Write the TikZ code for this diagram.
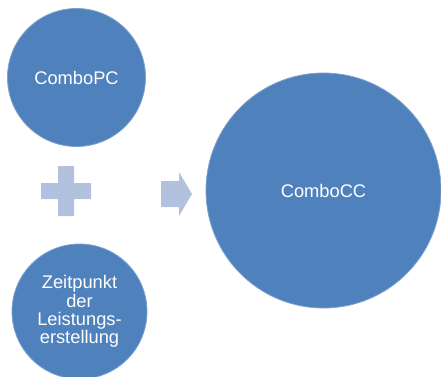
\documentclass[tikz,border=0pt]{standalone}
\usepackage{fontspec}
\setmainfont{Liberation Sans}
\definecolor{circblue}{HTML}{4F81BD}
\definecolor{circedge}{HTML}{7FA2CF}
\definecolor{lightblue}{RGB}{178,193,222}
\begin{document}
\begin{tikzpicture}[x=1pt,y=-1pt,
  bubble/.style={circle,fill=circblue,draw=circedge,line width=0.8pt,inner sep=0pt,
    text=white,align=center,font=\fontsize{18.3}{18.4}\selectfont},
  sym/.style={fill=lightblue,draw=none}]
\useasboundingbox (0,0) rectangle (441,376);
\node[bubble,minimum size=138pt] (pc) at (76.5,77.5) {ComboPC};
\node[bubble,minimum size=135pt] (zp) at (79.5,311.5) {Zeitpunkt\\der\\Leistungs-\\erstellung};
\node[bubble,minimum size=235pt] (cc) at (323.5,190.5) {ComboCC};
% plus sign
\coordinate (plus) at (66,191);
\fill[sym] ([shift={(-8,-25)}]plus) -- ++(16,0) -- ++(0,17) -- ++(17,0) -- ++(0,16)
  -- ++(-17,0) -- ++(0,17) -- ++(-16,0) -- ++(0,-17) -- ++(-17,0) -- ++(0,-16)
  -- ++(17,0) -- cycle;
% arrow
\coordinate (arr) at (161,194);
\fill[sym] ([shift={(0,-13)}]arr) -- ++(18,0) -- ++(0,-9) -- ++(13,22) -- ++(-13,22)
  -- ++(0,-9) -- ++(-18,0) -- cycle;
\end{tikzpicture}
\end{document}
